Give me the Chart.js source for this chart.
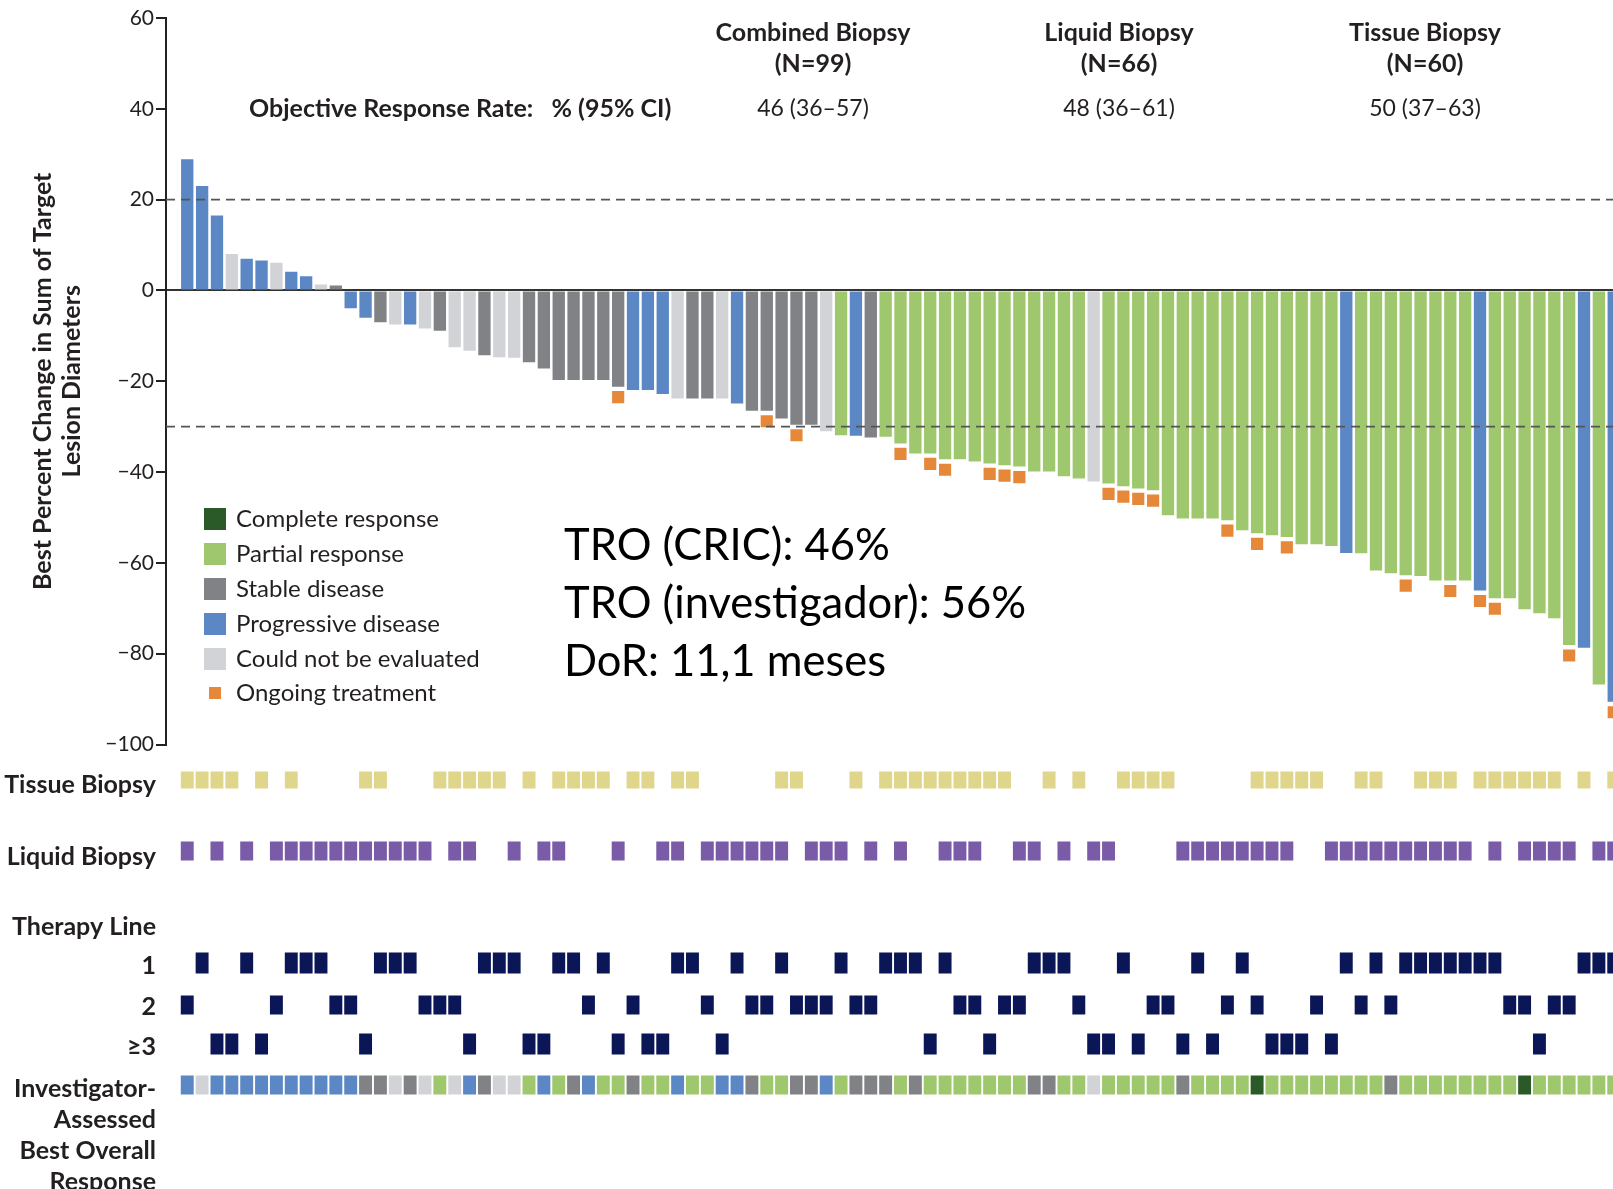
<!DOCTYPE html>
<html>
<head>
<meta charset="utf-8">
<script src="https://cdn.jsdelivr.net/npm/chart.js@4.4.0/dist/chart.umd.min.js"></script>
<style>
  html, body { margin: 0; padding: 0; background: #fff; overflow: hidden; }
  #wrap { position: absolute; left: 0; top: 0; width: 1613px; height: 1189px; }
</style>
</head>
<body>
<div id="wrap"><canvas id="waterfall"></canvas></div>
<script>
// Best percent change from baseline, one value per patient, ordered as in the waterfall
const bestChange = [
  28.9, 23.0, 16.5, 8.0, 7.0, 6.6, 6.1, 4.1, 3.1, 1.3,
  1.1, -3.9, -6.0, -7.0, -7.5, -7.5, -8.4, -8.9, -12.5, -13.3,
  -14.3, -14.7, -14.8, -15.8, -17.2, -19.7, -19.7, -19.7, -19.7, -21.2,
  -21.9, -21.9, -22.8, -23.8, -23.8, -23.8, -23.8, -24.9, -26.5, -26.5,
  -28.2, -29.6, -29.6, -31.0, -31.9, -32.0, -32.4, -32.2, -33.7, -35.9,
  -35.9, -37.2, -37.2, -37.7, -38.1, -38.5, -38.8, -39.9, -39.9, -40.9,
  -41.4, -42.1, -42.5, -43.1, -43.6, -44.0, -49.5, -50.2, -50.2, -50.2,
  -50.6, -52.8, -53.5, -53.9, -54.3, -55.9, -55.9, -56.3, -57.8, -57.9,
  -61.7, -62.3, -62.7, -62.9, -63.9, -63.9, -63.9, -66.1, -67.8, -67.8,
  -70.2, -71.1, -72.2, -78.1, -78.7, -86.8, -90.6
];
// response per patient: C complete, R partial, S stable, P progressive, N not evaluated
const centralResponse =
  'PPPNPPNPPN' + 'SPPSNPNSNN' + 'SNNSSSSSSS' + 'PPPNSSNPSS' + 'SSSNRPSRRR' +
  'RRRRRRRRRR' + 'RNRRRRRRRR' + 'RRRRRRRRPR' + 'RRRRRRRPRR' + 'RRRRPRP';
const investigatorResponse =
  'PNPPPPPPPP' + 'PPSSNSNRNP' + 'SNNRPRSPRR' + 'SRRPRRPPSR' + 'RSSPRSSSRS' +
  'RRRRRRRSSR' + 'RNRRRRRSRR' + 'RRCRRRRRRR' + 'RSRRRRRRRR' + 'CRRRRRR';
// patients still on treatment
const ongoing = [29, 39, 41, 48, 50, 51, 54, 55, 56, 62, 63, 64, 65, 70, 72, 74, 82, 85, 87, 88, 93, 96];
// biopsy type per patient (indices)
const tissueBiopsy = [0, 1, 2, 3, 5, 7, 12, 13, 17, 18, 19, 20, 21, 23, 25, 26, 27, 28, 30, 31,
  33, 34, 40, 41, 45, 47, 48, 49, 50, 51, 52, 53, 54, 55, 58, 60, 63, 64,
  65, 66, 72, 73, 74, 75, 76, 79, 80, 83, 84, 85, 87, 88, 89, 90, 91, 92, 94, 96];
const liquidBiopsy = [0, 2, 4, 6, 7, 8, 9, 10, 11, 12, 13, 14, 15, 16, 18, 19, 22, 24, 25, 29,
  32, 33, 35, 36, 37, 38, 39, 40, 42, 43, 44, 46, 48, 51, 52, 53, 56, 57, 59, 61, 62,
  67, 68, 69, 70, 71, 72, 73, 74, 77, 78, 79, 80, 81, 82, 83, 84, 85, 86, 88, 90, 91, 92, 93, 95, 96];
// line of therapy per patient (3 means >=3)
const therapyLine = [
  2, 1, 3, 3, 1, 3, 2, 1, 1, 1, 2, 2, 3, 1, 1, 1, 2, 2, 2, 3,
  1, 1, 1, 3, 3, 1, 1, 2, 1, 3, 2, 3, 3, 1, 1, 2, 3, 1, 2, 2,
  1, 2, 2, 2, 1, 2, 2, 1, 1, 1, 3, 1, 2, 2, 3, 2, 2, 1, 1, 1,
  2, 3, 3, 1, 3, 2, 2, 3, 1, 3, 2, 1, 2, 3, 3, 3, 2, 3, 1, 2,
  1, 2, 1, 1, 1, 1, 1, 1, 1, 2, 2, 3, 2, 2, 1, 1, 1
];
const thresholds = [20, -30];
const groupNames = ['Combined Biopsy', 'Liquid Biopsy', 'Tissue Biopsy'];
const groupN = [99, 66, 60];
const groupORR = ['46 (36\u201357)', '48 (36\u201361)', '50 (37\u201363)'];
const notes = ['TRO (CRIC): 46%', 'TRO (investigador): 56%', 'DoR: 11,1 meses'];
const rowLabels = ['Tissue Biopsy', 'Liquid Biopsy', 'Therapy Line', '1', '2', '\u22653',
  ['Investigator-', 'Assessed', 'Best Overall', 'Response']];

// ---- styling / layout ----
const responseColors = { C: '#2b5a29', R: '#9fc76d', S: '#808285', P: '#5b87c4', N: '#d2d3d6' };
const legendItems = [['C', 'Complete response'], ['R', 'Partial response'], ['S', 'Stable disease'],
  ['P', 'Progressive disease'], ['N', 'Could not be evaluated']];
const ORANGE = '#e5883a', KHAKI = '#e0d68b', PURPLE = '#7a5ba7', NAVY = '#0b1656', INK = '#231f20';
const FONT = 'Lato, "Open Sans", sans-serif';
const xMin = -1.43, xMax = 95.95;
// track panel rows, in pixels below the bottom of the waterfall panel
const rowBand = { tissue: [27, 44], liquid: [97, 116], line: [[208, 229], [251, 270], [289, 310]], inv: [331, 350] };
const rowTicks = [40, 112, 182, 221, 262, 302, 391];
const markerGap = 2.3;

const patients = bestChange.map((_, i) => i);
const trackRow = (ids, band) => ids.map(i => ({ x: i, y: band }));

const trackDefaults = { type: 'bar', yAxisID: 'y2', grouped: false, categoryPercentage: 1, barPercentage: 0.87, order: 3 };

const datasets = [
  {
    type: 'line', label: 'threshold +20', data: [{ x: xMin, y: thresholds[0] }, { x: xMax, y: thresholds[0] }],
    borderColor: '#555', borderWidth: 1.8, borderDash: [9, 6], pointRadius: 0, order: 0
  },
  {
    type: 'line', label: 'threshold -30', data: [{ x: xMin, y: thresholds[1] }, { x: xMax, y: thresholds[1] }],
    borderColor: '#555', borderWidth: 1.8, borderDash: [9, 6], pointRadius: 0, order: 0
  },
  {
    type: 'scatter', label: 'Ongoing treatment',
    data: ongoing.map(i => ({ x: i, y: bestChange[i] - markerGap })),
    pointStyle: 'rect', pointRadius: 8.6, backgroundColor: ORANGE, borderWidth: 0, order: 1
  },
  {
    type: 'bar', label: 'Best change', data: patients.map(i => ({ x: i, y: bestChange[i] })),
    backgroundColor: patients.map(i => responseColors[centralResponse[i]]),
    grouped: false, categoryPercentage: 1, barPercentage: 0.83, order: 2
  },
  Object.assign({ label: 'Tissue Biopsy', data: trackRow(tissueBiopsy, rowBand.tissue), backgroundColor: KHAKI }, trackDefaults),
  Object.assign({ label: 'Liquid Biopsy', data: trackRow(liquidBiopsy, rowBand.liquid), backgroundColor: PURPLE }, trackDefaults),
  Object.assign({
    label: 'Therapy Line', backgroundColor: NAVY,
    data: patients.map(i => ({ x: i, y: rowBand.line[therapyLine[i] - 1] }))
  }, trackDefaults),
  Object.assign({
    label: 'Investigator response', data: trackRow(patients, rowBand.inv),
    backgroundColor: patients.map(i => responseColors[investigatorResponse[i]])
  }, trackDefaults)
];

const figureText = {
  id: 'figureText',
  afterDraw(chart) {
    const ctx = chart.ctx;
    ctx.save();
    ctx.fillStyle = INK;
    ctx.textBaseline = 'middle';
    ctx.textAlign = 'center';
    const centers = [813, 1119, 1425];
    groupNames.forEach((name, i) => {
      ctx.font = 'bold 25px ' + FONT;
      ctx.fillText(name, centers[i], 33);
      ctx.fillText('(N=' + groupN[i] + ')', centers[i], 64);
      ctx.font = '23px ' + FONT;
      ctx.fillText(groupORR[i], centers[i], 109);
    });
    ctx.textAlign = 'left';
    ctx.font = 'bold 25px ' + FONT;
    ctx.fillText('Objective Response Rate:   % (95% CI)', 249, 109);

    // legend
    ctx.font = '24px ' + FONT;
    legendItems.forEach(([code, text], i) => {
      const cy = 519 + i * 35;
      ctx.fillStyle = responseColors[code];
      ctx.fillRect(204, cy - 11, 22, 22);
      ctx.fillStyle = INK;
      ctx.fillText(text, 236, cy);
    });
    ctx.fillStyle = ORANGE;
    ctx.fillRect(209, 687, 12, 12);
    ctx.fillStyle = INK;
    ctx.fillText('Ongoing treatment', 236, 693);

    // notes
    ctx.fillStyle = '#000';
    ctx.font = '43.5px ' + FONT;
    notes.forEach((t, i) => ctx.fillText(t, 564, 546 + i * 58));
    ctx.restore();
  }
};

const fixWidth = scale => {
  scale.width = 166;
  scale.paddingTop = 0;
  scale.paddingBottom = 0;
};

new Chart(document.getElementById('waterfall'), {
  data: { datasets },
  options: {
    responsive: true,
    maintainAspectRatio: false,
    animation: false,
    layout: { padding: { top: 18, right: 0, bottom: 0, left: 0 }, autoPadding: false },
    plugins: { legend: { display: false }, tooltip: { enabled: false } },
    scales: {
      x: { type: 'linear', min: xMin, max: xMax, offset: false, display: false },
      y: {
        type: 'linear', position: 'left', stack: 'panels', stackWeight: 726.5, weight: 1, z: 1,
        min: -100, max: 60,
        afterFit: fixWidth,
        border: { display: true, color: '#222', width: 2 },
        grid: {
          drawOnChartArea: true, drawTicks: true, tickLength: 10, tickWidth: 2, tickColor: '#222',
          color: c => (c.tick && c.tick.value === 0 ? '#333' : 'rgba(0,0,0,0)'),
          lineWidth: 2
        },
        ticks: {
          stepSize: 20, padding: 2, autoSkip: false, color: INK,
          font: { family: FONT, size: 21 },
          callback: v => (v < 0 ? '\u2212' + Math.abs(v) : String(v))
        },
        title: {
          display: true, text: ['Best Percent Change in Sum of Target', 'Lesion Diameters'],
          color: INK, font: { family: FONT, size: 25, weight: 'bold', lineHeight: 1.16 },
          padding: { top: 28, bottom: 0 }
        }
      },
      y2: {
        type: 'linear', position: 'left', stack: 'panels', stackWeight: 444.5, weight: 0,
        min: 0, max: 444.5, reverse: true,
        afterFit: fixWidth,
        afterBuildTicks: scale => { scale.ticks = rowTicks.map(v => ({ value: v })); },
        border: { display: false },
        grid: { display: false, drawTicks: false },
        ticks: {
          padding: 10, autoSkip: false, color: INK,
          font: { family: FONT, size: 25, weight: 'bold', lineHeight: 1.23 },
          callback: (v, i) => rowLabels[i]
        }
      }
    }
  },
  plugins: [figureText]
});
</script>
</body>
</html>
